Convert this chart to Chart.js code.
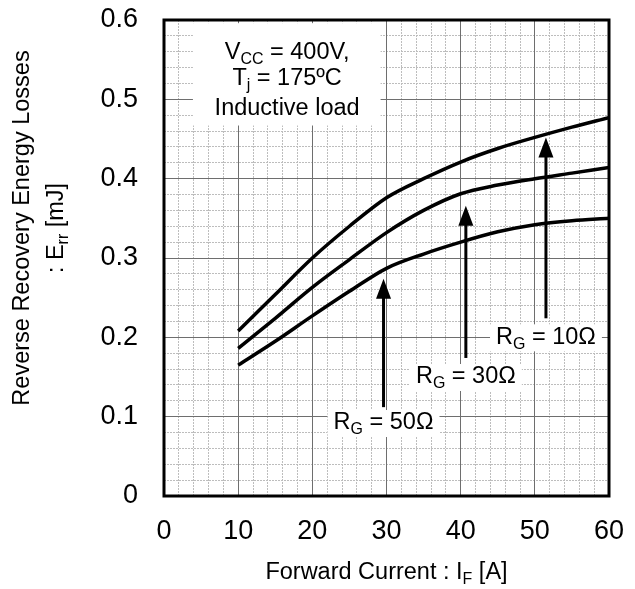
<!DOCTYPE html>
<html>
<head>
<meta charset="utf-8">
<script src="https://cdn.jsdelivr.net/npm/chart.js@4.4.0/dist/chart.umd.min.js"></script>
<style>
  body { margin: 0; background: #fff; }
  #wrap { width: 635px; height: 589px; }
</style>
</head>
<body>
<div id="wrap"><canvas id="myChart" width="635" height="589"></canvas></div>
<script>
// forward current I_F [A]
const currents = [10, 15, 20, 25, 30, 35, 40, 45, 50, 55, 60];
// Err [mJ] for each gate resistance
const err10 = [0.208, 0.254, 0.300, 0.340, 0.376, 0.400, 0.421, 0.438, 0.452, 0.465, 0.477];
const err30 = [0.186, 0.224, 0.263, 0.298, 0.332, 0.360, 0.381, 0.392, 0.400, 0.407, 0.414];
const err50 = [0.165, 0.195, 0.227, 0.258, 0.287, 0.305, 0.320, 0.333, 0.342, 0.347, 0.350];

// arrows pointing at each curve (x, tail, tip) and their labels
const arrowNames = ['10Ω', '30Ω', '50Ω'];
const arrowX = [51.5, 40.7, 29.6];
const arrowTail = [0.224, 0.174, 0.112];
const arrowTip = [0.452, 0.366, 0.274];
const labelY = [0.200, 0.150, 0.092];

const FONT = "'Liberation Sans', Arial, sans-serif";

function richWidth(ctx, parts, size) {
  let w = 0;
  parts.forEach(p => {
    ctx.font = (p[1] ? size * 0.68 : size) + 'px ' + FONT;
    w += ctx.measureText(p[0]).width;
  });
  return w;
}

function richText(ctx, parts, cx, cy, size) {
  let x = cx - richWidth(ctx, parts, size) / 2;
  ctx.textBaseline = 'middle';
  ctx.textAlign = 'left';
  ctx.fillStyle = '#000';
  parts.forEach(p => {
    ctx.font = (p[1] ? size * 0.68 : size) + 'px ' + FONT;
    ctx.fillText(p[0], x, p[1] ? cy + size * 0.3 : cy);
    x += ctx.measureText(p[0]).width;
  });
}

const extras = {
  id: 'extras',
  afterDatasetsDraw(chart) {
    const ctx = chart.ctx;
    const xs = chart.scales.x, ys = chart.scales.y;
    const a = chart.chartArea;
    ctx.save();

    // condition box
    const bx1 = xs.getPixelForValue(3.9), bx2 = xs.getPixelForValue(29.2);
    const by1 = ys.getPixelForValue(0.596), by2 = ys.getPixelForValue(0.467);
    ctx.fillStyle = '#fff';
    ctx.fillRect(bx1, by1, bx2 - bx1, by2 - by1);
    const cx = xs.getPixelForValue(16.6);
    richText(ctx, [['V', 0], ['CC', 1], [' = 400V,', 0]], cx, ys.getPixelForValue(0.5585), 23.5);
    richText(ctx, [['T', 0], ['j', 1], [' = 175ºC', 0]], cx, ys.getPixelForValue(0.526), 23.5);
    richText(ctx, [['Inductive load', 0]], cx, ys.getPixelForValue(0.489), 23.5);

    // arrows and labels
    for (let i = 0; i < arrowX.length; i++) {
      const px = xs.getPixelForValue(arrowX[i]);
      const tail = ys.getPixelForValue(arrowTail[i]);
      const tip = ys.getPixelForValue(arrowTip[i]);
      ctx.strokeStyle = '#000';
      ctx.lineWidth = 3;
      ctx.beginPath();
      ctx.moveTo(px, tail);
      ctx.lineTo(px, tip + 18);
      ctx.stroke();
      ctx.fillStyle = '#000';
      ctx.beginPath();
      ctx.moveTo(px, tip);
      ctx.lineTo(px - 7.5, tip + 20);
      ctx.lineTo(px + 7.5, tip + 20);
      ctx.closePath();
      ctx.fill();

      const parts = [['R', 0], ['G', 1], [' = ' + arrowNames[i], 0]];
      const ly = ys.getPixelForValue(labelY[i]);
      const w = richWidth(ctx, parts, 23.5);
      ctx.fillStyle = '#fff';
      ctx.fillRect(px - w / 2 - 6, ly - 13, w + 12, 27);
      richText(ctx, parts, px, ly, 23.5);
    }

    // frame
    ctx.strokeStyle = '#000';
    ctx.lineWidth = 3;
    ctx.strokeRect(a.left, a.top, a.right - a.left, a.bottom - a.top);
    ctx.restore();
  },
  afterDraw(chart) {
    const ctx = chart.ctx;
    const a = chart.chartArea;
    ctx.save();
    // x title
    richText(ctx, [['Forward Current : I', 0], ['F', 1], [' [A]', 0]], (a.left + a.right) / 2, 573, 23.5);
    // y title
    ctx.translate(0, 228);
    ctx.rotate(-Math.PI / 2);
    richText(ctx, [['Reverse Recovery Energy Losses', 0]], 0, 23, 23.5);
    richText(ctx, [[': E', 0], ['rr', 1], [' [mJ]', 0]], 0, 57, 23.5);
    ctx.restore();
  }
};

function minorColor(c) {
  const v = c.tick ? c.tick.value : 0;
  return Math.abs(v / 10 - Math.round(v / 10)) < 1e-6 ? 'rgba(0,0,0,0)' : '#bdbdbd';
}
function minorColorY(c) {
  const v = c.tick ? c.tick.value : 0;
  return Math.abs(v / 0.1 - Math.round(v / 0.1)) < 1e-6 ? 'rgba(0,0,0,0)' : '#bdbdbd';
}

function noPad(s) {
  s.paddingTop = 0; s.paddingBottom = 0; s.paddingLeft = 0; s.paddingRight = 0;
}

const line = (data) => ({
  data: data.map((v, i) => ({ x: currents[i], y: v })),
  borderColor: '#000',
  borderWidth: 3.5,
  pointRadius: 0,
  cubicInterpolationMode: 'monotone',
  fill: false
});

const ctx = document.getElementById('myChart');
const config = {
  type: 'line',
  data: {
    datasets: [line(err10), line(err30), line(err50)]
  },
  options: {
    responsive: false,
    animation: false,
    layout: { padding: { top: 20, right: 26, left: 0, bottom: 0 } },
    plugins: { legend: { display: false }, tooltip: { enabled: false } },
    scales: {
      xm: {
        type: 'linear', position: 'bottom', min: 0, max: 60,
        ticks: { display: false, stepSize: 2 },
        grid: { color: minorColor, lineWidth: 1, drawTicks: false },
        border: { display: false, dash: [2, 1] },
        afterFit(s) { s.height = 0; noPad(s); }
      },
      ym: {
        type: 'linear', position: 'left', min: 0, max: 0.6,
        ticks: { display: false, stepSize: 0.02 },
        grid: { color: minorColorY, lineWidth: 1, drawTicks: false },
        border: { display: false, dash: [2, 1] },
        afterFit(s) { s.width = 0; noPad(s); }
      },
      x: {
        type: 'linear', position: 'bottom', min: 0, max: 60,
        ticks: { stepSize: 10, color: '#000', font: { size: 27, family: FONT }, padding: 19, maxRotation: 0 },
        grid: { color: '#6e6e6e', lineWidth: 1, drawTicks: false },
        border: { display: false },
        afterFit(s) { s.height = 93; noPad(s); }
      },
      y: {
        type: 'linear', position: 'left', min: 0, max: 0.6,
        ticks: { stepSize: 0.1, color: '#000', font: { size: 27, family: FONT }, padding: 26,
          callback: v => Math.round(v * 10) / 10 },
        grid: { color: '#6e6e6e', lineWidth: 1, drawTicks: false },
        border: { display: false },
        afterFit(s) { s.width = 164; noPad(s); }
      }
    }
  },
  plugins: [extras]
};
var myChart = new Chart(ctx, config);
</script>
</body>
</html>
